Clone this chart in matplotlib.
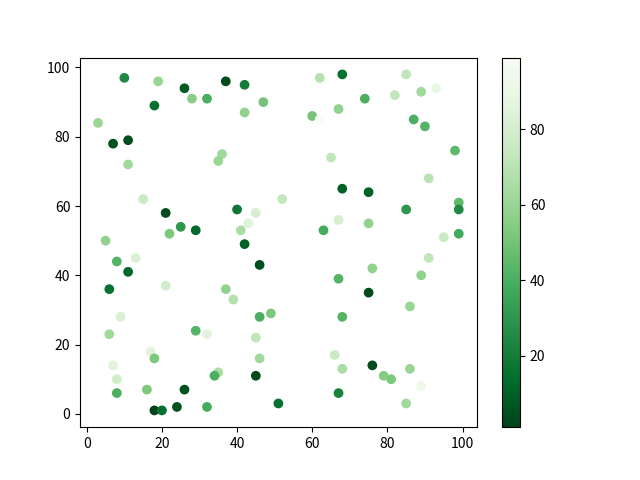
import matplotlib
matplotlib.use("Agg")
import matplotlib.pyplot as plt
import numpy as np

plt.rcParams['font.family'] = ['Noto Sans CJK SC', 'DejaVu Sans']

x = [10, 19, 26, 37, 42, 28, 32, 47, 18, 42, 3, 7, 11, 36, 35, 11, 15, 21, 40, 45,
     43, 25, 29, 22, 41, 5, 42, 62, 68, 85, 93, 89, 82, 74, 60, 62, 67, 87, 90, 98,
     65, 91, 52, 68, 75, 99, 99, 85, 67, 75, 63, 95, 99, 8, 13, 11, 46, 6, 21, 37,
     39, 49, 46, 9, 6, 29, 32, 45, 46, 17, 18, 7, 8, 35, 34, 45, 8, 16, 26, 18,
     20, 24, 32, 91, 76, 89, 67, 75, 86, 68, 66, 68, 76, 86, 79, 81, 89, 67, 51, 85]
y = [97, 96, 94, 96, 95, 91, 91, 90, 89, 87, 84, 78, 79, 75, 73, 72, 62, 58, 59, 58,
     55, 54, 53, 52, 53, 50, 49, 97, 98, 98, 94, 93, 92, 91, 86, 85, 88, 85, 83, 76,
     74, 68, 62, 65, 64, 61, 59, 59, 56, 55, 53, 51, 52, 44, 45, 41, 43, 36, 37, 36,
     33, 29, 28, 28, 23, 24, 23, 22, 16, 18, 16, 14, 10, 12, 11, 11, 6, 7, 7, 1,
     1, 2, 2, 45, 42, 40, 39, 35, 31, 28, 17, 13, 14, 13, 11, 10, 8, 6, 3, 3]
values = [25, 60, 8, 3, 20, 55, 40, 50, 15, 58, 60, 5, 4, 62, 60, 62, 75, 3, 18, 80,
          85, 30, 12, 52, 65, 58, 10, 68, 15, 72, 90, 62, 72, 40, 50, 99, 58, 40, 42, 45,
          72, 70, 73, 10, 10, 45, 25, 30, 80, 58, 38, 75, 38, 42, 82, 12, 4, 15, 78, 58,
          68, 52, 40, 82, 62, 42, 85, 72, 62, 85, 52, 85, 78, 65, 40, 3, 40, 52, 5, 1,
          15, 5, 38, 72, 58, 58, 42, 3, 60, 42, 75, 65, 3, 60, 55, 52, 92, 22, 15, 62]

fig, ax = plt.subplots(figsize=(6.4, 4.8), dpi=100)
sc = ax.scatter(x, y, c=values, cmap='Greens_r')
fig.colorbar(sc, ax=ax)
fig.savefig('out.png')
